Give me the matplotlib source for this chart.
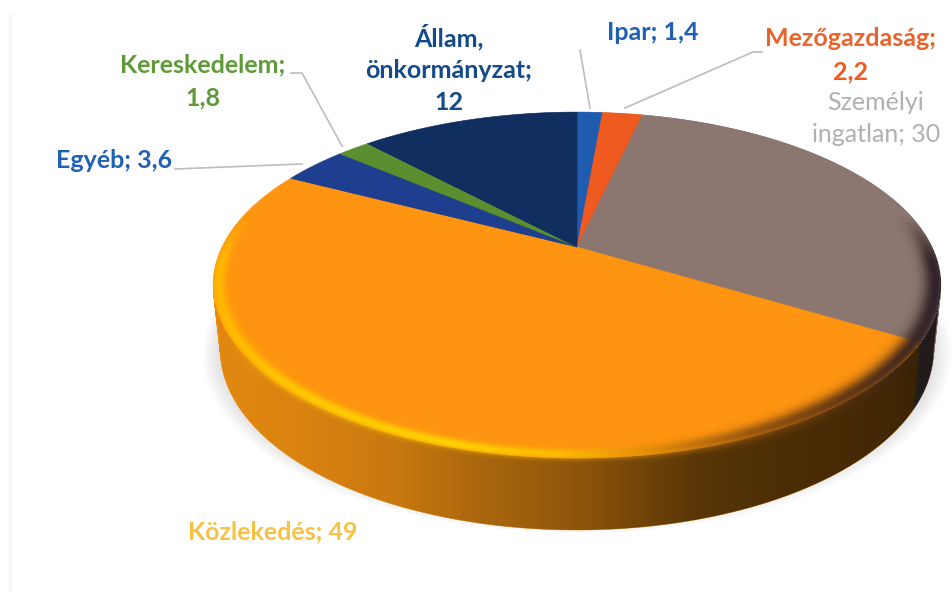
# 3D-szeru kordiagram: energiafelhasznalas szektoronkent
import numpy as np
import matplotlib
matplotlib.use('Agg')
import matplotlib.pyplot as plt
from matplotlib.path import Path
from matplotlib.patches import PathPatch
from matplotlib.transforms import Transform, Affine2D

plt.rcParams['font.family'] = ['Lato', 'DejaVu Sans']

# adatok, oramutato jarasaval 12 oratol
kategoriak = ['Ipar', 'Mezőgazdaság', 'Személyi ingatlan', 'Közlekedés', 'Egyéb', 'Kereskedelem', 'Állam, önkormányzat']
ertekek = [1.4, 2.2, 30, 49, 3.6, 1.8, 12]
szinek = ['#1F5CB0', '#EE5A20', '#8C7670', '#FE9410', '#1E3E90', '#5A8E2F', '#102E60']
oldal_szinek = ['#1F5CB0', '#EE5A20', '#8C7670', '#EC8E12', '#1E3E90', '#5A8E2F', '#102E60']

# a kor vetitese a kep pixeleire
CX, CY = 577, 247
K = 0.22
A = 355
B = 164.6


class PieProjection(Transform):
    input_dims = 2
    output_dims = 2

    def __init__(self, melyseg=0.0):
        super().__init__()
        self.melyseg = melyseg

    def transform_non_affine(self, values):
        values = np.asarray(values, dtype=float)
        x, y = values[:, 0], values[:, 1]
        w = 1 + K * y
        # az also lap kicsit kisebb, igy a fal alja lekerekitett
        return np.column_stack([CX + A * x / w * (1 - 0.02 * self.melyseg),
                                CY - B * y / w + self.melyseg * (62 - 10 * y)])

    def transform_path_non_affine(self, path):
        # iveket sokszogge bontjuk, mert a vetites nem affin
        nagy = path.transformed(Affine2D().scale(3000))
        polys = nagy.to_polygons(closed_only=False)
        return Path(self.transform_non_affine(polys[0] / 3000))


fig = plt.figure(figsize=(9.53, 6.02), dpi=100)
ax = fig.add_axes([0, 0, 1, 1])


def kor(szinlista, melyseg, zorder):
    wedges, _ = ax.pie(ertekek, colors=szinlista, startangle=90, counterclock=False)
    for w in wedges:
        w.set_transform(PieProjection(melyseg) + ax.transData)
        w.set_zorder(zorder)
        w.set_edgecolor(w.get_facecolor())
        w.set_linewidth(0.4)
    return wedges


# pixelracs a kor sajat koordinataiban (arnyek, perem)
XX, YY = np.meshgrid(np.arange(953) + 0.5, np.arange(602) + 0.5)


def sugar(dy, dx=0.0):
    up = CY + dy - YY
    yk = up / (B - K * up)
    xk = (XX - CX - dx) * (1 + K * yk) / A
    return np.hypot(xk, yk)


# lagy arnyek az alja korul
r_arnyek = sugar(68)
arnyek = np.zeros((602, 953, 4))
arnyek[..., :3] = 0.6
arnyek[..., 3] = 0.3 * np.clip((1.03 - r_arnyek) / 0.05, 0, 1)
ax.imshow(arnyek, extent=[0, 953, 602, 0], aspect='auto', zorder=1, interpolation='bilinear')

# oldalfal: egymasra rakott korok
for d in np.linspace(1, 0.03, 36):
    kor(oldal_szinek, d, 2)

# oldalfal sotetitese balrol jobbra
sotet = np.zeros((602, 953, 4))
sotet[..., 3] = np.interp(XX, [213, 300, 400, 480, 580, 640, 700, 780, 880, 942],
                          [0.04, 0.08, 0.16, 0.28, 0.40, 0.52, 0.63, 0.68, 0.72, 0.78])
img = ax.imshow(sotet, extent=[0, 953, 602, 0], aspect='auto', zorder=3)
theta = np.linspace(0, 2 * np.pi, 721)
kor_pontok = np.column_stack([np.cos(theta), np.sin(theta)])
felso = PieProjection(0).transform_non_affine(kor_pontok)
also = PieProjection(1).transform_non_affine(kor_pontok)
t0 = np.arcsin(-K)
bal = np.pi - t0
jobb = 2 * np.pi + t0
hatar = np.vstack([felso[theta <= bal], also[(theta > bal) & (theta < jobb)], felso[theta >= jobb]])
clip = PathPatch(Path(hatar), transform=ax.transData, fc='none', ec='none')
ax.add_patch(clip)
img.set_clip_path(clip)

# felso lap
kor(szinek, 0, 4)

# perem: balra sarga fenycsik, jobbra sotet es szelesebb
r = sugar(0)
perem = np.zeros((602, 953, 4))
px = [213, 300, 450, 560, 650, 750, 850, 942]
perem[..., 0] = np.interp(XX, px, [255, 255, 255, 255, 225, 150, 90, 40]) / 255
perem[..., 1] = np.interp(XX, px, [185, 205, 215, 190, 140, 85, 50, 30]) / 255
perem[..., 2] = np.interp(XX, px, [0, 0, 0, 0, 10, 15, 20, 40]) / 255
fade = np.clip((YY - 215) / 45, 0, 1)
szel = np.interp(XX, [213, 600, 800, 942], [0.018, 0.018, 0.03, 0.03])
alfa = np.exp(-((r - 0.985) / szel) ** 2) * fade * 0.95
# a peremen tul csak ott maradhat szin, ahol mar biztosan fal van alatta
kint = r > 1.0
alfa[kint] *= np.clip((YY[kint] - 340) / 40, 0, 1)
perem[..., 3] = alfa
ax.imshow(perem, extent=[0, 953, 602, 0], aspect='auto', zorder=5, interpolation='bilinear')

# vezetovonalak
vonal = dict(color='#BDBDBD', lw=1.2, zorder=3.5)
ax.plot([291, 302, 342], [73, 73, 146], **vonal)
ax.plot([175, 302], [169, 164], **vonal)
ax.plot([580, 590], [50, 108], **vonal)
ax.plot([762, 753, 625], [52, 52, 108], **vonal)

# halvany szkennelesi csik a bal szelen
ax.plot([10, 10], [15, 590], color='#F5F5F5', lw=2, zorder=0)

# feliratok
fs = 18
ax.text(449, 37, 'Állam,', color='#124A8A', fontsize=fs, fontweight='bold', ha='center', va='center', zorder=6)
ax.text(449, 71, 'önkormányzat;', color='#124A8A', fontsize=fs, fontweight='bold', ha='center', va='center', zorder=6)
ax.text(449, 103, '12', color='#124A8A', fontsize=fs, fontweight='bold', ha='center', va='center', zorder=6)
ax.text(653, 32, 'Ipar; 1,4', color='#1F5FB5', fontsize=fs, fontweight='bold', ha='center', va='center', zorder=6)
ax.text(851, 38, 'Mezőgazdaság;', color='#E8642C', fontsize=fs, fontweight='bold', ha='center', va='center', zorder=6)
ax.text(851, 72, '2,2', color='#EE5A20', fontsize=fs, fontweight='bold', ha='center', va='center', zorder=6)
ax.text(875, 103, 'Személyi', color='#B0B0B0', fontsize=fs, ha='center', va='center', zorder=6)
ax.text(876, 135, 'ingatlan; 30', color='#B0B0B0', fontsize=fs, ha='center', va='center', zorder=6)
ax.text(203, 65, 'Kereskedelem;', color='#5F9A38', fontsize=fs, fontweight='bold', ha='center', va='center', zorder=6)
ax.text(203, 98, '1,8', color='#5F9A38', fontsize=fs, fontweight='bold', ha='center', va='center', zorder=6)
ax.text(114, 161, 'Egyéb; 3,6', color='#1F62B5', fontsize=fs, fontweight='bold', ha='center', va='center', zorder=6)
ax.text(273, 532, 'Közlekedés; 49', color='#F6C244', fontsize=fs, fontweight='bold', ha='center', va='center', zorder=6)

ax.set_aspect('auto')
ax.set_xlim(0, 953)
ax.set_ylim(602, 0)
ax.axis('off')

fig.savefig('out.png', dpi=100)
